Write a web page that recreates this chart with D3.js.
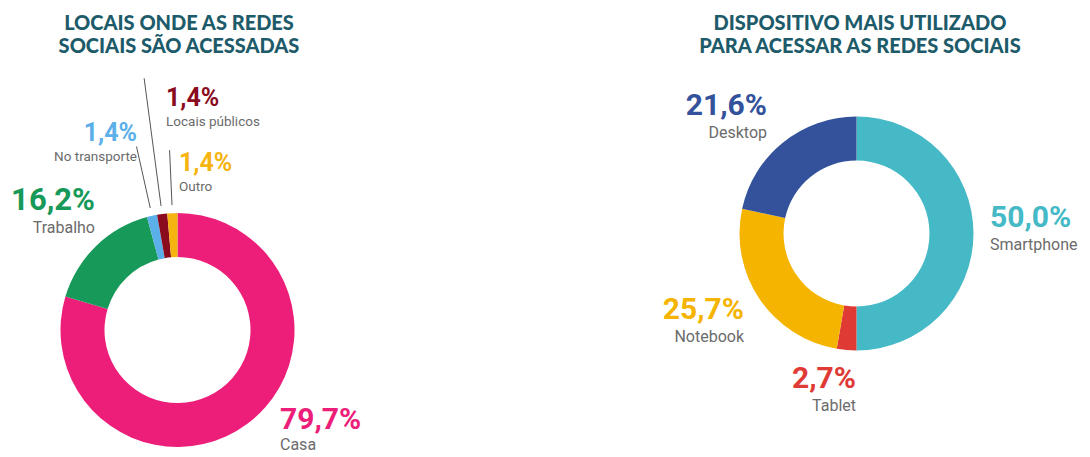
<!DOCTYPE html>
<html lang="pt">
<head>
<meta charset="utf-8">
<title>Redes sociais</title>
<script src="https://d3js.org/d3.v7.min.js"></script>
<style>
  body { margin: 0; background: #fff; }
  .title { font-family: Lato, sans-serif; font-weight: 900; font-size: 20px; fill: #1d5b6a; }
  .pct { font-family: Roboto, sans-serif; font-weight: 700; }
  .name { font-family: Roboto, sans-serif; fill: #6b6b6b; }
</style>
</head>
<body>
<script>
// data: where social networks are accessed
const localLabels = ["Casa", "Trabalho", "No transporte", "Locais públicos", "Outro"];
const localValues = [79.7, 16.2, 1.4, 1.4, 1.4];
const localColors = ["#ec1e7a", "#17995a", "#5cb0ea", "#8a0b1e", "#f6b411"];

// data: device used
const deviceLabels = ["Smartphone", "Tablet", "Notebook", "Desktop"];
const deviceValues = [50.0, 2.7, 25.7, 21.6];
const deviceColors = ["#45b9c6", "#e03a35", "#f4b400", "#33529b"];

const titles = [
  ["LOCAIS ONDE AS REDES", "SOCIAIS SÃO ACESSADAS"],
  ["DISPOSITIVO MAIS UTILIZADO", "PARA ACESSAR AS REDES SOCIAIS"]
];

// label layout (offset from donut centre), text anchor, font sizes
const localLayout = [
  {dx: 102.5, dy: 99, anchor: "start", big: 30, small: 16, gap: 21},
  {dx: -82.5, dy: -120, anchor: "end", big: 31, small: 16},
  {dx: -40.5, dy: -189, anchor: "end", big: 25, small: 13.5, line: 188},
  {dx: -11.5, dy: -224, anchor: "start", big: 25, small: 13.5, line: 254},
  {dx: 1.5, dy: -159, anchor: "start", big: 25, small: 13.5, line: 180}
];
const deviceLayout = [
  {dx: 133.5, dy: -6.5, anchor: "start", big: 30, small: 16},
  {dx: -0.5, dy: 154.5, anchor: "end", big: 30, small: 16},
  {dx: -112.5, dy: 85.5, anchor: "end", big: 30, small: 16},
  {dx: -89.5, dy: -118.5, anchor: "end", big: 30, small: 16}
];

const w = 1090, h = 457;
const outerR = 117, innerR = 73;

const svg = d3.select("body").append("svg")
  .attr("width", w)
  .attr("height", h);

function pct(v) {
  return d3.format(".1f")(v).replace(".", ",") + "%";
}

function donut(cx, cy, titleX, titleLines, labels, values, colors, layout) {
  const t = svg.append("text")
    .attr("class", "title")
    .attr("text-anchor", "middle");
  titleLines.forEach((s, i) => {
    t.append("tspan").attr("x", titleX).attr("y", 30 + i * 23).text(s);
  });

  const pie = d3.pie().sort(null).value(d => d);
  const arc = d3.arc().innerRadius(innerR).outerRadius(outerR);
  const arcs = pie(values);

  const g = svg.append("g").attr("transform", `translate(${cx},${cy})`);

  g.selectAll("path.slice")
    .data(arcs)
    .enter()
    .append("path")
    .attr("class", "slice")
    .attr("fill", (d, i) => colors[i])
    .attr("d", arc);

  // leader lines for the tiny slices
  arcs.forEach((d, i) => {
    const L = layout[i];
    if (!L.line) return;
    const a = (d.startAngle + d.endAngle) / 2;
    g.append("line")
      .attr("x1", Math.sin(a) * (outerR + 8))
      .attr("y1", -Math.cos(a) * (outerR + 8))
      .attr("x2", Math.sin(a) * L.line)
      .attr("y2", -Math.cos(a) * L.line)
      .attr("stroke", "#555")
      .attr("stroke-width", 1);
  });

  const lab = g.selectAll("g.lab")
    .data(arcs)
    .enter()
    .append("g")
    .attr("class", "lab")
    .attr("transform", (d, i) => `translate(${layout[i].dx},${layout[i].dy})`);

  lab.append("text")
    .attr("class", "pct")
    .attr("text-anchor", (d, i) => layout[i].anchor)
    .attr("font-size", (d, i) => layout[i].big)
    .attr("fill", (d, i) => colors[i])
    .text(d => pct(d.data));

  lab.append("text")
    .attr("class", "name")
    .attr("text-anchor", (d, i) => layout[i].anchor)
    .attr("font-size", (d, i) => layout[i].small)
    .attr("y", (d, i) => layout[i].gap || (layout[i].small > 14 ? 23 : 20))
    .text((d, i) => labels[i]);
}

donut(177.5, 330, 179, titles[0], localLabels, localValues, localColors, localLayout);
donut(856.5, 233.5, 860, titles[1], deviceLabels, deviceValues, deviceColors, deviceLayout);
</script>
</body>
</html>
